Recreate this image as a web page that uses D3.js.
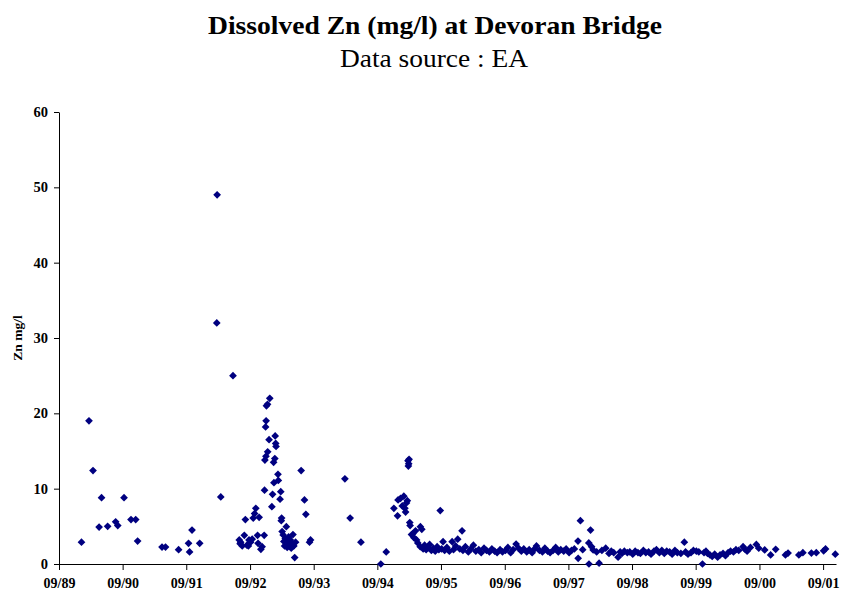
<!DOCTYPE html>
<html>
<head>
<meta charset="utf-8">
<script src="https://cdn.jsdelivr.net/npm/d3@7"></script>
<style>
  body { margin: 0; background: #fff; }
  svg { display: block; font-family: "Liberation Serif", "Times New Roman", serif; }
</style>
</head>
<body>
<svg id="chart" width="841" height="594"></svg>
<script>
// ------------------- Data -------------------
const tickLabels = ["09/89", "09/90", "09/91", "09/92", "09/93", "09/94", "09/95",
                    "09/96", "09/97", "09/98", "09/99", "09/00", "09/01"];
const yTicks = [0, 10, 20, 30, 40, 50, 60];

const sampleDates = [
  "1990-01-08", "1990-02-20", "1990-03-15", "1990-04-19", "1990-05-03", "1990-06-07",
  "1990-07-23", "1990-08-04", "1990-09-09", "1990-10-19", "1990-11-15", "1990-11-26",
  "1991-04-15", "1991-05-05", "1991-07-19", "1991-09-14", "1991-09-20", "1991-10-04",
  "1991-11-17", "1992-02-23", "1992-02-25", "1992-03-17", "1992-05-26",
  // 1992/93 winter
  "1992-07-01", "1992-07-06", "1992-07-09", "1992-07-18", "1992-07-30", "1992-08-05",
  "1992-08-14", "1992-08-22", "1992-08-26", "1992-09-04", "1992-09-13", "1992-09-19",
  "1992-09-27", "1992-10-04", "1992-10-14", "1992-10-17", "1992-10-23", "1992-11-02",
  "1992-11-09", "1992-11-21", "1992-11-23", "1992-11-25", "1992-11-29", "1992-12-01",
  "1992-12-02", "1992-12-04", "1992-12-10", "1992-12-11", "1992-12-19", "1992-12-23",
  "1993-01-04", "1993-01-08", "1993-01-14", "1993-01-16", "1993-01-21", "1993-01-23",
  "1993-01-26", "1993-01-28", "1993-02-08", "1993-02-10", "1993-02-20", "1993-02-24",
  "1993-02-27", "1993-03-01", "1993-03-04", "1993-03-10", "1993-03-14", "1993-03-18",
  "1993-03-22", "1993-03-28", "1993-04-02", "1993-04-06", "1993-04-10", "1993-04-15",
  "1993-04-20", "1993-04-25", "1993-04-30", "1993-05-05", "1993-05-10", "1993-05-15",
  "1993-05-20", "1993-06-21", "1993-07-10", "1993-07-18", "1993-08-08", "1993-08-14",
  // 1994/95
  "1994-02-27", "1994-03-29", "1994-05-30", "1994-09-21", "1994-10-22", "1994-12-05",
  "1994-12-26", "1994-12-29", "1995-01-12", "1995-01-22", "1995-01-31", "1995-02-06",
  "1995-02-10", "1995-02-15", "1995-02-20", "1995-02-24", "1995-02-26", "1995-02-28",
  "1995-03-02", "1995-03-06", "1995-03-08", "1995-03-16", "1995-03-23", "1995-03-30",
  "1995-04-08", "1995-04-14", "1995-04-21", "1995-05-05", "1995-05-06", "1995-05-14",
  "1995-05-22", "1995-05-30", "1995-06-08", "1995-06-16", "1995-06-28", "1995-07-08",
  "1995-07-19", "1995-07-30", "1995-08-10", "1995-08-20", "1995-08-28", "1995-09-05",
  "1995-09-13", "1995-09-22",
  // regular monitoring
  "1995-10-05", "1995-10-19", "1995-11-04", "1995-11-12", "1995-11-24", "1995-12-06",
  "1995-12-18", "1995-12-31", "1996-01-05", "1996-01-19", "1996-02-05", "1996-02-19",
  "1996-03-05", "1996-03-19", "1996-04-05", "1996-04-19", "1996-05-05", "1996-05-19",
  "1996-06-05", "1996-06-19", "1996-07-05", "1996-07-19", "1996-08-05", "1996-08-19",
  "1996-09-05", "1996-09-19", "1996-10-05", "1996-10-19", "1996-11-05", "1996-11-19",
  "1996-12-05", "1996-12-19", "1997-01-05", "1997-01-19", "1997-02-05", "1997-02-19",
  "1997-03-02", "1997-03-19", "1997-04-05", "1997-04-19", "1997-05-05", "1997-05-19",
  "1997-06-05", "1997-06-20", "1997-07-05", "1997-07-19", "1997-08-05", "1997-08-19",
  "1997-09-05", "1997-09-19", "1997-10-05", "1997-10-26", "1997-10-27", "1997-11-09",
  "1997-11-22", "1997-12-27", "1997-12-28", "1998-01-06", "1998-01-12", "1998-01-21",
  "1998-02-24", "1998-02-10", "1998-03-12", "1998-04-03", "1998-04-22", "1998-05-05",
  "1998-05-19", "1998-06-13", "1998-06-25", "1998-07-05", "1998-07-19", "1998-08-05",
  "1998-08-19", "1998-09-05", "1998-09-19", "1998-10-05", "1998-10-19", "1998-11-05",
  "1998-11-19", "1998-12-05", "1998-12-19", "1999-01-05", "1999-01-19", "1999-02-05",
  "1999-02-19", "1999-03-05", "1999-03-19", "1999-04-05", "1999-04-19", "1999-05-05",
  "1999-05-19", "1999-06-08", "1999-06-28", "1999-07-05", "1999-07-19", "1999-08-05",
  "1999-08-19", "1999-09-05", "1999-09-19", "1999-10-10", "1999-10-19", "1999-10-30",
  "1999-11-08", "1999-11-22", "1999-12-05", "1999-12-19", "2000-01-05", "2000-01-19",
  "2000-02-05", "2000-02-19", "2000-03-05", "2000-03-19", "2000-04-05", "2000-04-19",
  "2000-05-05", "2000-05-30", "2000-06-08", "2000-06-22", "2000-07-11", "2000-08-14",
  "2000-08-28", "2000-10-01", "2000-11-04", "2000-12-03", "2001-01-28", "2001-02-12",
  "2001-04-15", "2001-05-08", "2001-06-26", "2001-07-24", "2001-09-04", "2001-09-15",
  "2001-11-10"
];

const znValues = [
  2.9, 19.0, 12.4, 4.9, 8.8, 5.0,
  5.6, 5.1, 8.8, 5.9, 5.9, 3.05,
  2.25, 2.25, 1.9, 2.75, 1.6, 4.5,
  2.75, 32.0, 49.0, 8.9, 25.0,
  // 1992/93 winter
  3.2, 2.7, 2.9, 2.4, 3.8, 5.9,
  2.5, 2.4, 3.2, 2.9, 3.3, 6.1,
  6.7, 7.4, 3.8, 2.75, 6.2, 1.95,
  2.3, 3.8, 9.8, 13.8, 18.2, 14.3,
  19.0, 21.0, 21.2, 14.9, 16.5, 22.0,
  7.6, 9.25, 13.5, 10.8, 14.0, 17.0,
  16.0, 15.6, 11.9, 11.1, 8.6, 9.6,
  5.75, 6.1, 4.3, 3.85, 3.0, 2.4,
  3.4, 4.95, 2.2, 2.9, 3.6, 2.5,
  3.2, 2.1, 2.8, 3.9, 2.4, 0.85,
  2.9, 12.4, 8.5, 6.6, 2.9, 3.2,
  // 1994/95
  11.3, 6.1, 2.9, 0.0, 1.6, 7.4,
  6.4, 8.5, 8.7, 7.7, 9.0, 7.4,
  6.9, 8.1, 8.4, 13.7, 13.0, 13.3,
  13.9, 5.5, 5.1, 3.9, 4.0, 3.5,
  4.4, 3.2, 2.8, 2.3, 4.95, 4.6,
  2.0, 2.5, 1.9, 2.2, 2.6, 1.8,
  2.1, 1.7, 2.3, 1.9, 7.1, 2.0,
  2.96, 1.8,
  // regular monitoring
  2.2, 1.7, 2.96, 1.9, 2.4, 3.3,
  2.0, 4.4, 1.8, 2.3, 1.6, 2.0,
  2.5, 1.7, 1.9, 1.5, 2.1, 1.8,
  1.6, 2.0, 1.7, 1.5, 1.9, 1.6,
  1.8, 2.2, 1.5, 1.9, 2.65, 2.1,
  1.7, 2.0, 1.6, 1.9, 1.5, 2.0,
  2.4, 1.8, 1.6, 2.1, 1.7, 1.5,
  1.8, 2.2, 1.6, 1.9, 1.7, 2.0,
  1.5, 1.8, 2.0, 3.05, 0.75, 5.75,
  1.9, 2.8, 0.0, 4.5, 2.3, 1.86,
  0.1, 1.6, 1.8, 2.1, 1.4, 1.7,
  1.5, 0.9, 1.6, 1.4, 1.7, 1.5,
  1.6, 1.3, 1.7, 1.5, 1.4, 1.8,
  1.5, 1.6, 1.3, 1.7, 1.9, 1.5,
  1.8, 1.4, 1.7, 1.6, 1.3, 1.8,
  1.5, 1.4, 2.9, 1.6, 1.3, 1.5,
  1.8, 1.7, 1.6, 0.0, 1.5, 1.7,
  1.4, 1.2, 1.0, 1.3, 0.9, 1.2,
  1.4, 1.1, 1.5, 1.7, 1.6, 1.9,
  1.8, 2.3, 2.0, 1.7, 2.2, 2.6,
  2.1, 1.86, 1.2, 1.95, 1.2, 1.45,
  1.2, 1.5, 1.45, 1.5, 1.75, 2.0,
  1.3
];

// ------------------- Setup -------------------
const svg = d3.select("#chart");
const margin = { top: 112, right: 5, bottom: 30, left: 59 };
const width = 777;   // plot width
const height = 452;  // plot height

const parseDate = d3.timeParse("%Y-%m-%d");
const parseTick = d3.timeParse("%m/%y");

const data = sampleDates.map((d, i) => ({ date: parseDate(d), value: znValues[i] }));

const x = d3.scaleTime()
  .domain([parseTick("09/89"), parseDate("2001-11-14")])
  .range([0, width]);

const y = d3.scaleLinear()
  .domain([0, 60])
  .range([height, 0]);

const g = svg.append("g")
  .attr("transform", `translate(${margin.left}, ${margin.top})`);

// ------------------- Titles -------------------
// the source fonts are a little wider than Times, so stretch to the measured width
svg.append("text")
  .attr("x", 208).attr("y", 34)
  .attr("font-size", "25px")
  .attr("font-weight", "bold")
  .attr("textLength", 454)
  .attr("lengthAdjust", "spacingAndGlyphs")
  .text("Dissolved Zn (mg/l) at Devoran Bridge");

svg.append("text")
  .attr("x", 340).attr("y", 67)
  .attr("font-size", "25px")
  .attr("textLength", 188)
  .attr("lengthAdjust", "spacingAndGlyphs")
  .text("Data source : EA");

// ------------------- Axes -------------------
const yAxis = g.append("g")
  .call(d3.axisLeft(y).tickValues(yTicks).tickSize(5).tickSizeOuter(0).tickPadding(6));

const xAxis = g.append("g")
  .attr("transform", `translate(0, ${height})`)
  .call(d3.axisBottom(x)
    .tickValues(tickLabels.map(parseTick))
    .tickFormat((d, i) => tickLabels[i])
    .tickSize(6).tickSizeOuter(0).tickPadding(8));

[xAxis, yAxis].forEach(ax => {
  ax.selectAll("path, line").attr("stroke", "#000").attr("stroke-width", 1);
  ax.selectAll("text")
    .attr("font-family", "Liberation Serif, Times New Roman, serif")
    .attr("font-weight", "bold")
    .attr("font-size", "14px")
    .attr("fill", "#000");
});
yAxis.selectAll("text").attr("font-size", "14.5px");

svg.append("text")
  .attr("transform", `translate(22, ${margin.top + height / 2}) rotate(-90)`)
  .attr("text-anchor", "middle")
  .attr("font-size", "13.5px")
  .attr("font-weight", "bold")
  .text("Zn mg/l");

// ------------------- Points -------------------
const diamond = d3.symbol().type(d3.symbolSquare).size(30);

g.selectAll("path.pt")
  .data(data)
  .join("path")
    .attr("class", "pt")
    .attr("d", diamond)
    .attr("transform", d => `translate(${x(d.date)}, ${y(d.value)}) rotate(45)`)
    .attr("fill", "#000080");
</script>
</body>
</html>
